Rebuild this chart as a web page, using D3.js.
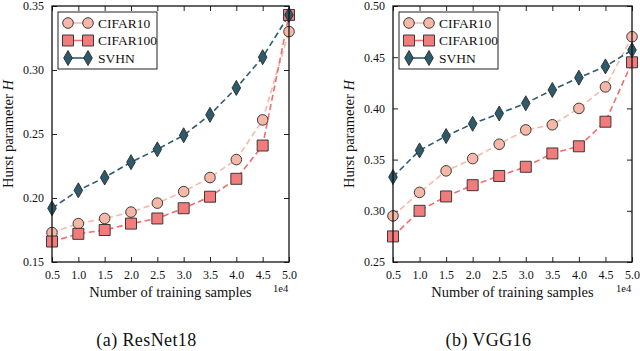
<!DOCTYPE html>
<html>
<head>
<meta charset="utf-8">
<script src="https://cdn.jsdelivr.net/npm/d3@7"></script>
<style>
  body { margin: 0; background: #fff; }
  svg { display: block; }
  svg text { font-family: "Liberation Serif", "Times New Roman", Tinos, "DejaVu Serif", serif !important; fill: #111; }
</style>
</head>
<body>
<svg id="chart" width="640" height="351"></svg>
<script>
// training samples (x 1e4)
var samples = [0.5, 1.0, 1.5, 2.0, 2.5, 3.0, 3.5, 4.0, 4.5, 5.0];
var xTicks = [0.5, 1.0, 1.5, 2.0, 2.5, 3.0, 3.5, 4.0, 4.5, 5.0];
var seriesNames = ["CIFAR10", "CIFAR100", "SVHN"];

// ResNet18
var resnetCifar10 = [0.173, 0.180, 0.184, 0.189, 0.196, 0.205, 0.216, 0.230, 0.261, 0.330];
var resnetCifar100 = [0.166, 0.172, 0.175, 0.180, 0.184, 0.192, 0.201, 0.215, 0.241, 0.343];
var resnetSvhn = [0.192, 0.206, 0.216, 0.228, 0.238, 0.249, 0.265, 0.286, 0.310, 0.343];
var resnetYTicks = [0.15, 0.20, 0.25, 0.30, 0.35];

// VGG16
var vggCifar10 = [0.295, 0.318, 0.339, 0.351, 0.365, 0.379, 0.384, 0.400, 0.421, 0.470];
var vggCifar100 = [0.275, 0.300, 0.314, 0.325, 0.334, 0.343, 0.356, 0.363, 0.387, 0.445];
var vggSvhn = [0.333, 0.359, 0.373, 0.385, 0.395, 0.405, 0.418, 0.430, 0.441, 0.457];
var vggYTicks = [0.25, 0.30, 0.35, 0.40, 0.45, 0.50];

var captions = ["(a) ResNet18", "(b) VGG16"];

var fills = ["#f5b7a7", "#f27b7b", "#2d5b6c"];
var lineColors = ["#f7baa9", "#f26c6c", "#2d5b6c"];
var shapes = ["circle", "square", "diamond"];

var svg = d3.select("#chart");

function markerPath(shape) {
  if (shape === "circle") return d3.symbol().type(d3.symbolCircle).size(Math.PI * 5.3 * 5.3)();
  if (shape === "square") return "M-5.5,-5.5H5.5V5.5H-5.5Z";
  return "M0,-7.5L4.3,0L0,7.5L-4.3,0Z";
}

function panel(left, right, yTicks, data, caption) {
  var top = 6, bottom = 262;
  var x = d3.scaleLinear().domain([0.5, 5.0]).range([left, right]);
  var y = d3.scaleLinear().domain([yTicks[0], yTicks[yTicks.length - 1]]).range([bottom, top]);
  var g = svg.append("g");

  // axes, ticks inward on all four sides
  var fmtY = d3.format(".2f"), fmtX = d3.format(".1f");
  g.append("g").attr("transform", "translate(0," + bottom + ")")
    .call(d3.axisBottom(x).tickValues(xTicks).tickSizeInner(-5).tickSizeOuter(0).tickPadding(8).tickFormat(fmtX));
  g.append("g").attr("transform", "translate(0," + top + ")")
    .call(d3.axisTop(x).tickValues(xTicks).tickSizeInner(-5).tickSizeOuter(0).tickFormat(""));
  g.append("g").attr("transform", "translate(" + left + ",0)")
    .call(d3.axisLeft(y).tickValues(yTicks).tickSizeInner(-5).tickSizeOuter(0).tickPadding(8).tickFormat(fmtY));
  g.append("g").attr("transform", "translate(" + right + ",0)")
    .call(d3.axisRight(y).tickValues(yTicks).tickSizeInner(-5).tickSizeOuter(0).tickFormat(""));
  g.selectAll(".domain").remove();
  g.selectAll("g").attr("font-family", null);
  g.selectAll(".tick line").attr("stroke", "#222").attr("stroke-width", 1);
  g.selectAll(".tick text").style("font-size", "12px").attr("fill", "#111");

  var line = d3.line().x(function(d, i) { return x(samples[i]); }).y(function(d) { return y(d); });

  data.forEach(function(vals, k) {
    g.append("path").datum(vals)
      .attr("fill", "none").attr("stroke", lineColors[k]).attr("stroke-width", 1.6)
      .attr("stroke-dasharray", "6,3.5").attr("d", line);
  });
  data.forEach(function(vals, k) {
    g.selectAll(".m" + k).data(vals).enter().append("path")
      .attr("d", markerPath(shapes[k]))
      .attr("transform", function(d, i) { return "translate(" + x(samples[i]) + "," + y(d) + ")"; })
      .attr("fill", fills[k]).attr("stroke", "#2a2a2a").attr("stroke-width", 0.9);
  });

  // frame
  g.append("rect").attr("x", left).attr("y", top).attr("width", right - left).attr("height", bottom - top)
    .attr("fill", "none").attr("stroke", "#111").attr("stroke-width", 1.3);

  // legend
  var lx = left + 6, ly = top + 6;
  g.append("rect").attr("x", lx).attr("y", ly).attr("width", 99).attr("height", 57)
    .attr("fill", "#fff").attr("stroke", "#222").attr("stroke-width", 1);
  seriesNames.forEach(function(name, k) {
    var cy = ly + 11 + k * 17.5;
    g.append("line").attr("x1", lx + 10).attr("x2", lx + 30).attr("y1", cy).attr("y2", cy)
      .attr("stroke", lineColors[k]).attr("stroke-width", 1.6);
    [lx + 10, lx + 30].forEach(function(mx) {
      g.append("path").attr("d", markerPath(shapes[k])).attr("transform", "translate(" + mx + "," + cy + ")")
        .attr("fill", fills[k]).attr("stroke", "#2a2a2a").attr("stroke-width", 0.9);
    });
    g.append("text").attr("x", lx + 40).attr("y", cy + 4.5).style("font-size", "13.5px").text(name);
  });

  // labels
  var cx = (left + right) / 2;
  g.append("text").attr("x", cx).attr("y", 297).attr("text-anchor", "middle").style("font-size", "14.5px")
    .text("Number of training samples");
  g.append("text").attr("x", right - 16).attr("y", 292).style("font-size", "10.5px").text("1e4");
  var yl = g.append("text").attr("transform", "translate(" + (left - 39) + "," + ((top + bottom) / 2) + ") rotate(-90)")
    .attr("text-anchor", "middle").style("font-size", "14.5px");
  yl.append("tspan").text("Hurst parameter ");
  yl.append("tspan").style("font-style", "italic").text("H");
  g.append("text").attr("x", cx - 24).attr("y", 346).attr("text-anchor", "middle")
    .style("font-size", "18px").style("letter-spacing", "0.4px").text(caption);
}

panel(52, 289, resnetYTicks, [resnetCifar10, resnetCifar100, resnetSvhn], captions[0]);
panel(393, 632, vggYTicks, [vggCifar10, vggCifar100, vggSvhn], captions[1]);
</script>
</body>
</html>
